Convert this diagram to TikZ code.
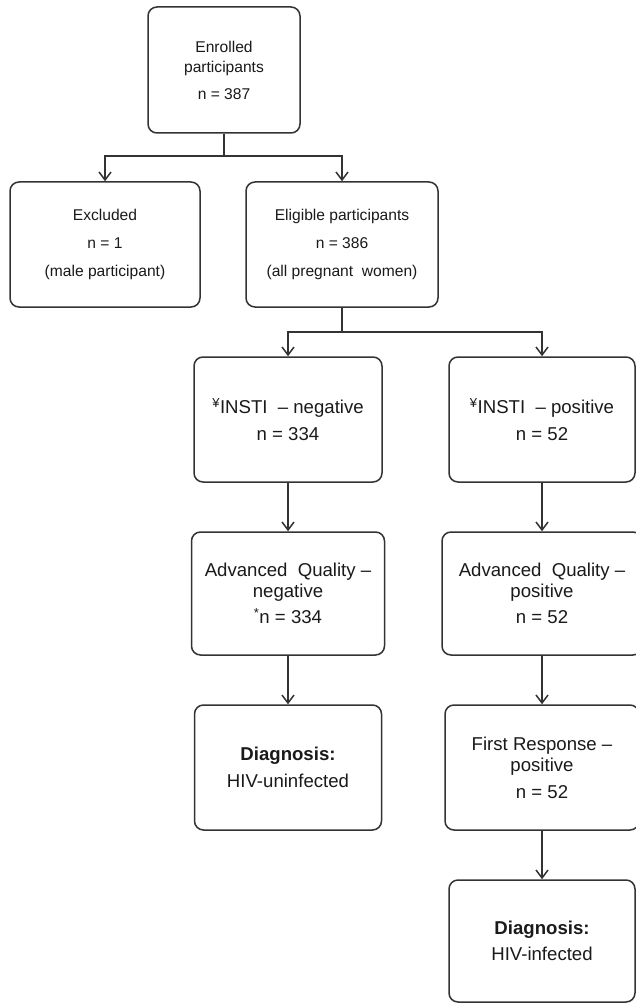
\documentclass[tikz,border=0pt]{standalone}
\usepackage{fontspec}
\setmainfont{Liberation Sans}
\usetikzlibrary{arrows.meta}
\definecolor{lncol}{HTML}{333333}
\definecolor{txcol}{HTML}{1A1A1A}
\begin{document}
\begin{tikzpicture}[x=1pt,y=-1pt,
  box/.style={draw=lncol, line width=1.5pt, rounded corners=9pt, align=center, inner sep=0pt, text=txcol},
  smalltxt/.style={font=\fontsize{15.6}{20}\selectfont},
  bigtxt/.style={font=\fontsize{18.6}{21}\selectfont},
  conn/.style={draw=lncol, line width=1.5pt},
  arr/.style={conn, -{Straight Barb[length=8pt,width=12pt,line width=1.5pt]}}]
\clip (0,0) rectangle (636,1003);
\fill[white] (0,0) rectangle (636,1003);
% top level
\node[box,smalltxt,minimum width=152pt,minimum height=126pt] (enr) at (224,70)
  {Enrolled\\participants\\[7pt]n = 387};
\node[box,smalltxt,minimum width=190pt,minimum height=125pt] (exc) at (105,244.5)
  {Excluded\\[8pt]n = 1\\[8pt](male participant)};
\node[box,smalltxt,minimum width=192pt,minimum height=125pt] (elig) at (342,244.5)
  {Eligible participants\\[8pt]n = 386\\[8pt](all pregnant\ \ women)};
% left column
\node[box,bigtxt,minimum width=188pt,minimum height=125pt] (ineg) at (288,419.5)
  {\textsuperscript{¥}INSTI\ \ – negative\\[6pt]n = 334};
\node[box,bigtxt,minimum width=193pt,minimum height=123pt] (aqneg) at (288,593.5)
  {Advanced\ \ Quality –\\negative\\[5pt]\textsuperscript{*}n = 334};
\node[box,bigtxt,minimum width=187pt,minimum height=125pt] (dneg) at (288,767.5)
  {\textbf{Diagnosis:}\\[6pt]HIV-uninfected};
% right column
\node[box,bigtxt,minimum width=186pt,minimum height=125pt] (ipos) at (542,419.5)
  {\textsuperscript{¥}INSTI\ \ – positive\\[6pt]n = 52};
\node[box,bigtxt,minimum width=200pt,minimum height=123pt] (aqpos) at (542,593.5)
  {Advanced\ \ Quality –\\positive\\[5pt]n = 52};
\node[box,bigtxt,minimum width=194pt,minimum height=125pt] (fr) at (542,767.5)
  {First Response –\\positive\\[6pt]n = 52};
\node[box,bigtxt,minimum width=186pt,minimum height=122pt] (dpos) at (542,941)
  {\textbf{Diagnosis:}\\[5pt]HIV-infected};
% connectors
\coordinate (s1) at (224,156);
\draw[conn] (enr.south) -- (s1);
\draw[arr] (s1) -| (exc.north);
\draw[arr] (s1) -| (elig.north);
\coordinate (s2) at (342,332);
\draw[conn] (elig.south) -- (s2);
\draw[arr] (s2) -| (ineg.north);
\draw[arr] (s2) -| (ipos.north);
\draw[arr] (ineg.south) -- (aqneg.north);
\draw[arr] (aqneg.south) -- (dneg.north);
\draw[arr] (ipos.south) -- (aqpos.north);
\draw[arr] (aqpos.south) -- (fr.north);
\draw[arr] (fr.south) -- (dpos.north);
\end{tikzpicture}
\end{document}
